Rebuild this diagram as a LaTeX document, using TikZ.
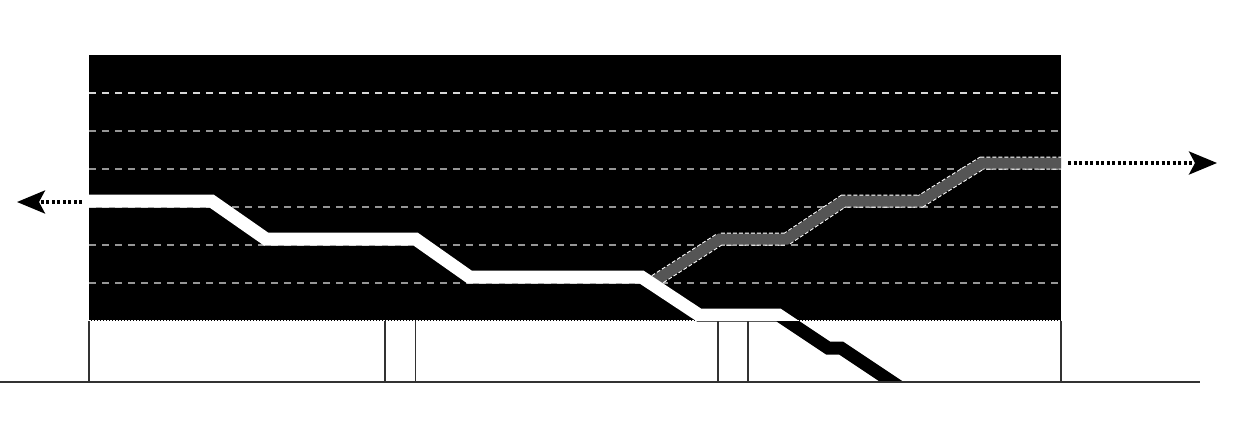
\documentclass[tikz,border=0pt]{standalone}
\usetikzlibrary{arrows.meta}
\definecolor{gridgray}{RGB}{150,150,150}
\definecolor{gridlight}{RGB}{215,215,215}
\definecolor{bandgray}{RGB}{85,85,85}
\definecolor{linegray}{RGB}{50,50,50}
\tikzset{
  gridline/.style={gridgray, line width=1.4pt, dash pattern=on 7pt off 6pt},
  bandpath/.style={line width=13pt, line join=miter, line cap=butt},
  grayedge/.style={white, line width=13pt, line join=miter, line cap=butt, dash pattern=on 4pt off 2pt},
  grayfill/.style={bandgray, line width=11pt, line join=miter, line cap=butt},
  wall/.style={linegray, line width=1.2pt},
  flowarrow/.style={line width=3.5pt, dash pattern=on 3pt off 2.5pt, -{Stealth[length=28pt,width=23pt,inset=6pt]}}
}
\begin{document}
\begin{tikzpicture}[x=1pt,y=-1pt]
\useasboundingbox (0,0) rectangle (1237,439);
% black block
\fill[black] (89,55) rectangle (1061,321);
% grid lines
\draw[gridline, gridlight] (89,93) -- (1061,93);
\foreach \yy in {131,169,207,245,283}
  \draw[gridline] (89,\yy) -- (1061,\yy);
\draw[white, line width=0.8pt, dash pattern=on 1.5pt off 1.5pt] (89,320.8) -- (1061,320.8);
% gray rising path
\draw[grayedge] (650,284) -- (720,239) -- (786.5,239) -- (843.5,201) -- (921,201) -- (982,163) -- (1061,163);
\draw[grayfill] (650,284) -- (720,239) -- (786.5,239) -- (843.5,201) -- (921,201) -- (982,163) -- (1061,163);
% descending path: white inside block, black outside
\def\mainpath{(89,201) -- (211.5,201) -- (266,239) -- (415.5,239) -- (469.5,277) -- (641.5,277) -- (699,315) -- (778.5,315) -- (828,348) -- (841,348) -- (892,382) -- (907,392)}
\begin{scope}
  \clip (89,55) rectangle (1061,321);
  \draw[bandpath, white] \mainpath;
\end{scope}
\begin{scope}
  \clip (0,321) rectangle (1237,382);
  \draw[bandpath, black] \mainpath;
\end{scope}
% walls and ground
\foreach \xx in {89,385,415.5,718,748,1061}
  \draw[wall] (\xx,321) -- (\xx,382);
\draw[linegray, line width=1.5pt] (0,382) -- (1200,382);
% arrows
\coordinate (Lstart) at (82,202);
\coordinate (Ltip) at (17,202);
\coordinate (Rstart) at (1068,163);
\coordinate (Rtip) at (1217,163);
\draw[flowarrow] (Lstart) -- (Ltip);
\draw[flowarrow] (Rstart) -- (Rtip);
\end{tikzpicture}
\end{document}
